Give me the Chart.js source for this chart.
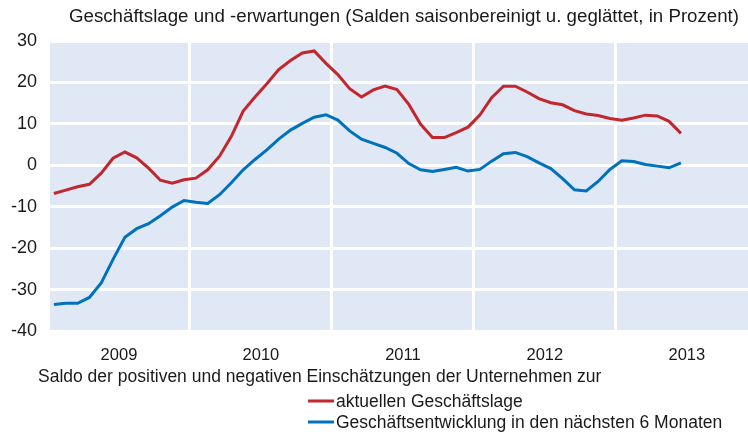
<!DOCTYPE html>
<html>
<head>
<meta charset="utf-8">
<script src="https://cdn.jsdelivr.net/npm/chart.js@4.4.1/dist/chart.umd.min.js"></script>
<style>
  html, body { margin: 0; padding: 0; background: #fff; }
  #wrap { width: 748px; height: 432px; }
</style>
</head>
<body>
<div id="wrap"><canvas id="chart" width="748" height="432"></canvas></div>
<script>
// monthly values, Jan 2009 .. Jun 2013
const lage = [
  -6.8, -6.0, -5.2, -4.6, -1.9, 1.7, 3.2, 1.8, -0.7, -3.6, -4.3, -3.5,
  -3.1, -1.1, 2.2, 7.0, 13.1, 16.5, 19.7, 23.1, 25.3, 27.1, 27.6, 24.6,
  21.9, 18.5, 16.5, 18.2, 19.1, 18.3, 14.7, 9.9, 6.7, 6.7, 7.9, 9.2,
  12.1, 16.3, 19.1, 19.1, 17.7, 16.1, 15.1, 14.6, 13.2, 12.4, 12.0, 11.3,
  10.9, 11.4, 12.1, 11.9, 10.6, 7.7
];
const erwartung = [
  -33.6, -33.3, -33.3, -31.9, -28.4, -22.7, -17.4, -15.3, -14.1, -12.2, -10.1, -8.5,
  -8.9, -9.2, -7.1, -4.2, -1.1, 1.4, 3.7, 6.3, 8.5, 10.1, 11.6, 12.2,
  10.9, 8.3, 6.3, 5.3, 4.3, 2.9, 0.4, -1.1, -1.5, -1.0, -0.5, -1.4,
  -1.0, 1.0, 2.8, 3.1, 2.1, 0.6, -0.8, -3.2, -5.9, -6.2, -3.9, -1.0,
  1.1, 0.9, 0.2, -0.2, -0.6, 0.6
];
const years = ['2009', '2010', '2011', '2012', '2013'];
const yTicks = [-40, -30, -20, -10, 0, 10, 20, 30];

const title = 'Geschäftslage und -erwartungen (Salden saisonbereinigt u. geglättet, in Prozent)';
const note = 'Saldo der positiven und negativen Einschätzungen der Unternehmen zur';
const seriesNames = ['aktuellen Geschäftslage', 'Geschäftsentwicklung in den nächsten 6 Monaten'];
const colors = ['#c1272d', '#0071bc'];

const FONT = '"Liberation Sans", Arial, sans-serif';
const TXT = '#1a1a1a';

// months counted from Jan 2009, points in the middle of each month
function toPoints(arr) {
  return arr.map((v, i) => ({ x: i + 0.5, y: v }));
}

const bgPlugin = {
  id: 'plotBg',
  beforeDraw(chart) {
    const a = chart.chartArea;
    const ctx = chart.ctx;
    ctx.save();
    ctx.fillStyle = '#e0e8f5';
    ctx.fillRect(a.left, a.top, a.right - a.left, a.bottom - a.top);
    ctx.restore();
  }
};

const textPlugin = {
  id: 'texts',
  afterDraw(chart) {
    const ctx = chart.ctx;
    ctx.save();
    ctx.fillStyle = TXT;
    ctx.textBaseline = 'alphabetic';
    ctx.font = '18.7px ' + FONT;
    ctx.fillText(title, 69, 22);
    ctx.font = '17.5px ' + FONT;
    ctx.fillText(note, 38, 382);
    // legend
    const rows = [407, 428];
    seriesNames.forEach((name, i) => {
      ctx.strokeStyle = colors[i];
      ctx.lineWidth = 3;
      ctx.beginPath();
      ctx.moveTo(308, rows[i] - 6);
      ctx.lineTo(334, rows[i] - 6);
      ctx.stroke();
      ctx.fillText(name, 336, rows[i]);
    });
    ctx.restore();
  }
};

new Chart(document.getElementById('chart'), {
  type: 'line',
  data: {
    datasets: [
      { label: seriesNames[0], data: toPoints(lage), borderColor: colors[0], borderWidth: 3, pointRadius: 0, tension: 0 },
      { label: seriesNames[1], data: toPoints(erwartung), borderColor: colors[1], borderWidth: 3, pointRadius: 0, tension: 0 }
    ]
  },
  options: {
    responsive: false,
    animation: false,
    layout: { padding: { top: 41, left: 0, right: 0, bottom: 0 } },
    plugins: { legend: { display: false }, tooltip: { enabled: false } },
    scales: {
      x: {
        type: 'linear',
        min: 0.17,
        max: 59.17,
        afterBuildTicks(scale) {
          scale.ticks = years.slice(1).map((y, i) => ({ value: (i + 1) * 12 }));
        },
        afterFit(scale) { scale.height = 0; },
        ticks: { display: false },
        grid: { color: '#ffffff', lineWidth: 3, drawTicks: false },
        border: { display: false }
      },
      yearAxis: {
        type: 'linear',
        position: 'bottom',
        min: 0.17,
        max: 59.17,
        afterBuildTicks(scale) {
          scale.ticks = years.map((y, i) => ({ value: i * 12 + 6 }));
        },
        afterFit(scale) { scale.height = 101; },
        ticks: {
          color: TXT,
          font: { family: FONT, size: 16.5 },
          padding: 15,
          maxRotation: 0,
          autoSkip: false,
          callback: (v) => years[Math.round((v - 6) / 12)]
        },
        grid: { display: false, drawTicks: false },
        border: { display: false }
      },
      y: {
        min: -40,
        max: 30,
        afterBuildTicks(scale) {
          scale.ticks = yTicks.map(v => ({ value: v }));
        },
        afterFit(scale) { scale.width = 50; },
        ticks: {
          color: TXT,
          font: { family: FONT, size: 18 },
          padding: 13
        },
        grid: { color: '#ffffff', lineWidth: 3, drawTicks: false },
        border: { display: false }
      }
    }
  },
  plugins: [bgPlugin, textPlugin]
});
</script>
</body>
</html>
